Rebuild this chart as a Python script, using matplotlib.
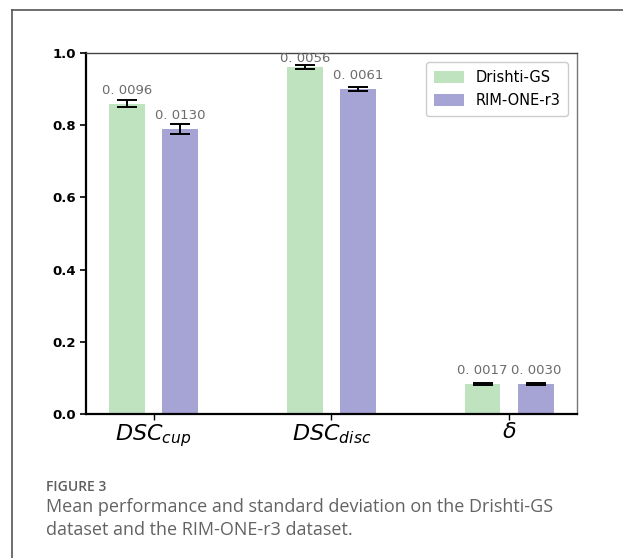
import matplotlib.pyplot as plt
import numpy as np
from matplotlib.lines import Line2D

metrics = [r'$DSC_{cup}$', r'$DSC_{disc}$', r'$\delta$']
drishti_mean = [0.859, 0.961, 0.083]
drishti_std = [0.0096, 0.0056, 0.0017]
rim_mean = [0.789, 0.900, 0.083]
rim_std = [0.0130, 0.0061, 0.0030]
series_names = ['Drishti-GS', 'RIM-ONE-r3']

green = '#bfe3bf'
purple = '#a6a4d5'

fig = plt.figure(figsize=(6.23, 5.58), dpi=100)
ax = fig.add_axes([0.138, 0.258, 0.788, 0.647])

x = np.arange(len(metrics))
w = 0.2
off = 0.15
ax.bar(x - off, drishti_mean, w, yerr=drishti_std, color=green, label=series_names[0],
       capsize=7, error_kw=dict(elinewidth=1.4, capthick=1.4, ecolor='black'))
ax.bar(x + off, rim_mean, w, yerr=rim_std, color=purple, label=series_names[1],
       capsize=7, error_kw=dict(elinewidth=1.4, capthick=1.4, ecolor='black'))

# std values written above each bar
for xs, means, stds in [(x - off, drishti_mean, drishti_std), (x + off, rim_mean, rim_std)]:
    for xi, m, s in zip(xs, means, stds):
        ty = min(m + 0.037, 0.985)
        ax.text(xi, ty, '0. %s' % ('%.4f' % s)[2:], ha='center', va='center',
                fontsize=9.5, color='#6b6b6b',
                family=['Liberation Sans Narrow', 'DejaVu Sans'])

ax.set_xlim(-0.38, 2.38)
ax.set_ylim(0, 1.0)
ax.set_xticks(x)
ax.set_xticklabels(metrics, fontsize=16)
ax.set_yticks([0.0, 0.2, 0.4, 0.6, 0.8, 1.0])
ax.set_yticklabels(['0.0', '0.2', '0.4', '0.6', '0.8', '1.0'], fontsize=9.5, fontweight='bold')
ax.tick_params(axis='y', length=4, width=1.2, pad=3)
ax.tick_params(axis='x', length=4, width=1.0, pad=2)
for side in ['left', 'bottom']:
    ax.spines[side].set_linewidth(1.6)
    ax.spines[side].set_color('black')
ax.spines['top'].set_color('#444444')
ax.spines['right'].set_color('#777777')
ax.spines['top'].set_linewidth(1.0)
ax.spines['right'].set_linewidth(1.0)

ax.legend(loc='upper right', fontsize=10.5, handlelength=2.0, handleheight=0.9,
          borderpad=0.55, labelspacing=0.55, edgecolor='#cccccc', framealpha=1,
          borderaxespad=0.6)

# page frame (top and left rule)
fig.add_artist(Line2D([12 / 623, 1.0], [1 - 10 / 558, 1 - 10 / 558], color='#555555', lw=1.2))
fig.add_artist(Line2D([12 / 623, 12 / 623], [0, 1 - 10 / 558], color='#555555', lw=1.2))

fig.text(46 / 623, 1 - 487 / 558, 'FIGURE 3', fontsize=10, color='#5e5e5e',
         family='Open Sans', fontweight='semibold', va='center')
fig.text(46 / 623, 1 - 507 / 558, 'Mean performance and standard deviation on the Drishti-GS',
         fontsize=13, color='#636363', family='Open Sans', va='center')
fig.text(46 / 623, 1 - 530 / 558, 'dataset and the RIM-ONE-r3 dataset.',
         fontsize=13, color='#636363', family='Open Sans', va='center')

fig.savefig('out.png', dpi=100)
